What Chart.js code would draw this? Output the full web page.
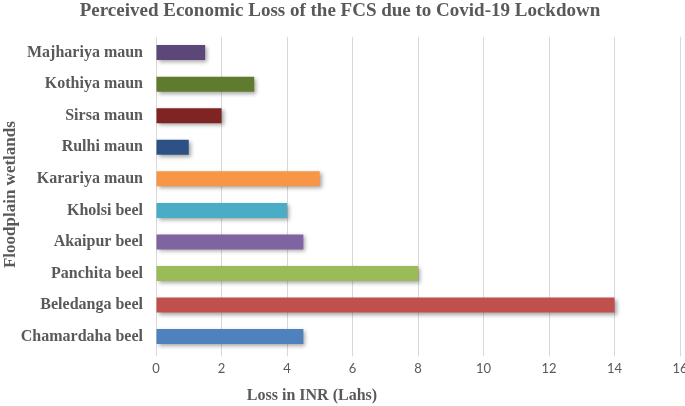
<!DOCTYPE html>
<html>
<head>
<meta charset="utf-8">
<script src="https://cdn.jsdelivr.net/npm/chart.js@4.4.0/dist/chart.umd.min.js"></script>
<style>
  html, body { margin: 0; padding: 0; background: #fff; overflow: hidden; }
  #wrap { width: 700px; height: 406px; }
</style>
</head>
<body>
<div id="wrap"><canvas id="lossChart"></canvas></div>
<script>
// wetlands, top to bottom as in the picture
const wetlands = ["Majhariya maun", "Kothiya maun", "Sirsa maun", "Rulhi maun", "Karariya maun",
                  "Kholsi beel", "Akaipur beel", "Panchita beel", "Beledanga beel", "Chamardaha beel"];
const lossLakhs = [1.5, 3, 2, 1, 5, 4, 4.5, 8, 14, 4.5];
const barColors = ["#5b4879", "#5f7b2d", "#7f2323", "#2d5085", "#f79646",
                   "#4bacc6", "#8064a2", "#9bbb59", "#c0504d", "#4f81bd"];
const xTicks = [0, 2, 4, 6, 8, 10, 12, 14, 16];

const serif = "'Liberation Serif', 'Times New Roman', serif";

// soft drop shadow under the bars, like the office chart
const barShadow = {
  id: 'barShadow',
  beforeDatasetsDraw(chart) {
    const c = chart.ctx;
    c.save();
    c.shadowColor = 'rgba(0,0,0,0.35)';
    c.shadowBlur = 4;
    c.shadowOffsetX = 2;
    c.shadowOffsetY = 2;
  },
  afterDatasetsDraw(chart) {
    chart.ctx.restore();
  }
};

// x axis title sits left of centre in the original
const xTitle = {
  id: 'xTitle',
  afterDraw(chart) {
    const c = chart.ctx;
    c.save();
    c.font = "bold 16px " + serif;
    c.fillStyle = '#595959';
    c.textAlign = 'center';
    c.textBaseline = 'middle';
    c.fillText('Loss in INR (Lahs)', 312, 396);
    c.restore();
  }
};

new Chart(document.getElementById('lossChart'), {
  type: 'bar',
  data: {
    labels: wetlands,
    datasets: [{
      data: lossLakhs,
      backgroundColor: barColors,
      borderWidth: 0,
      barPercentage: 0.95,
      categoryPercentage: 0.5
    }]
  },
  options: {
    indexAxis: 'y',
    responsive: true,
    maintainAspectRatio: false,
    animation: false,
    layout: { padding: { top: 0, right: 20, bottom: 24, left: 0 } },
    plugins: {
      legend: { display: false },
      tooltip: { enabled: false },
      title: {
        display: true,
        text: 'Perceived Economic Loss of the FCS due to Covid-19 Lockdown',
        color: '#595959',
        font: { family: serif, size: 19, weight: 'bold' },
        padding: { top: 0, bottom: 14 }
      }
    },
    scales: {
      x: {
        min: 0,
        max: 16,
        afterBuildTicks(axis) { axis.ticks = xTicks.map(v => ({ value: v })); },
        grid: { color: '#d9d9d9', drawTicks: true, tickLength: 4 },
        border: { display: false },
        ticks: { color: '#595959', font: { family: 'Lato', size: 13 }, padding: 5 }
      },
      y: {
        afterFit(axis) { axis.width = 156; },
        grid: { display: false },
        border: { display: false },
        ticks: { color: '#595959', font: { family: serif, size: 16, weight: 'bold' }, padding: 5 },
        title: {
          display: true,
          text: 'Floodplain wetlands',
          color: '#595959',
          font: { family: serif, size: 17, weight: 'bold' },
          padding: { top: 0, bottom: 0 }
        }
      }
    }
  },
  plugins: [barShadow, xTitle]
});
</script>
</body>
</html>
